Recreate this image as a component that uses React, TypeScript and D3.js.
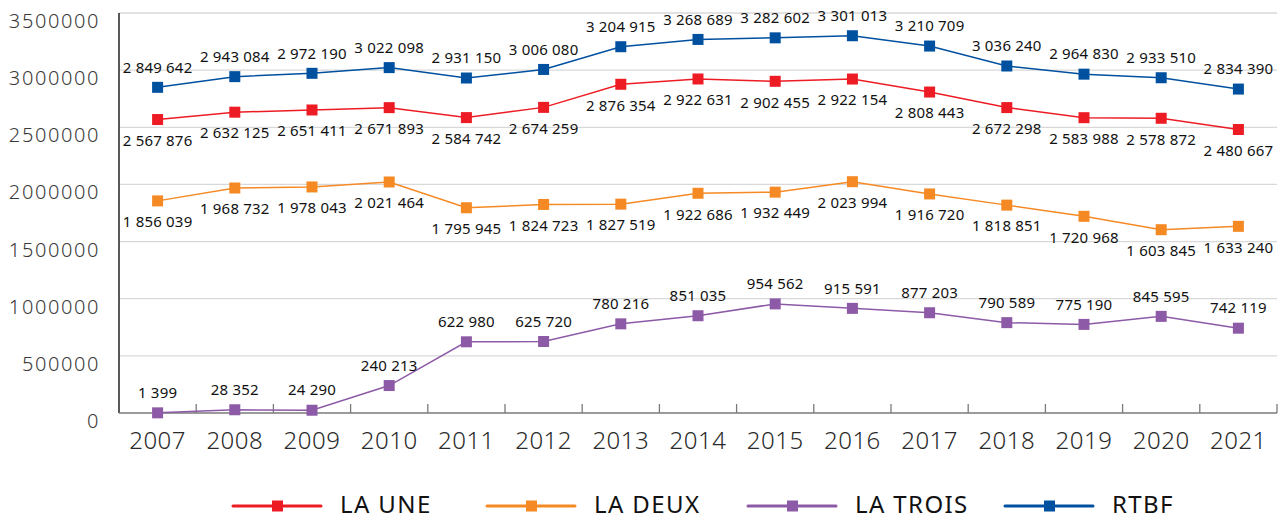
import { useEffect } from 'react'
import * as d3 from 'd3'

const WIDTH = 1285
const HEIGHT = 520
const MARGIN = { top: 13, right: 8, bottom: 107, left: 119 }

const YEARS = ['2007', '2008', '2009', '2010', '2011', '2012', '2013', '2014', '2015', '2016', '2017', '2018', '2019', '2020', '2021']
const Y_TICKS = [0, 500000, 1000000, 1500000, 2000000, 2500000, 3000000, 3500000]

const LA_UNE = [2567876, 2632125, 2651411, 2671893, 2584742, 2674259, 2876354, 2922631, 2902455, 2922154, 2808443, 2672298, 2583988, 2578872, 2480667]
const LA_DEUX = [1856039, 1968732, 1978043, 2021464, 1795945, 1824723, 1827519, 1922686, 1932449, 2023994, 1916720, 1818851, 1720968, 1603845, 1633240]
const LA_TROIS = [1399, 28352, 24290, 240213, 622980, 625720, 780216, 851035, 954562, 915591, 877203, 790589, 775190, 845595, 742119]
const RTBF = [2849642, 2943084, 2972190, 3022098, 2931150, 3006080, 3204915, 3268689, 3282602, 3301013, 3210709, 3036240, 2964830, 2933510, 2834390]

const SERIES = [
  { name: 'LA UNE', values: LA_UNE, color: '#ed1c24', labelPos: 'below' },
  { name: 'LA DEUX', values: LA_DEUX, color: '#f58a24', labelPos: 'below' },
  { name: 'LA TROIS', values: LA_TROIS, color: '#8c5aa6', labelPos: 'above' },
  { name: 'RTBF', values: RTBF, color: '#0050a0', labelPos: 'above' },
]

const LEGEND_X = [233, 487, 748, 1005]
const FONT = '"Noto Sans", "DejaVu Sans", sans-serif'

// "2849642" -> "2 849 642"
const fmt = (v: number) => String(v).replace(/\B(?=(\d{3})+(?!\d))/g, ' ')

export default function App() {
  useEffect(() => {
    document.body.style.margin = '0'
  }, [])

  const iw = WIDTH - MARGIN.left - MARGIN.right
  const ih = HEIGHT - MARGIN.top - MARGIN.bottom

  const x = d3.scaleBand().domain(YEARS).range([0, iw])
  const y = d3.scaleLinear().domain([0, 3500000]).range([ih, 0])
  const cx = (i: number) => (x(YEARS[i]) as number) + x.bandwidth() / 2

  const line = d3.line<number>().x((_, i) => cx(i)).y(d => y(d))

  return (
    <svg width={WIDTH} height={HEIGHT} style={{ display: 'block', fontFamily: FONT }}>
      <g transform={`translate(${MARGIN.left},${MARGIN.top})`}>
        {/* gridlines */}
        {Y_TICKS.filter(t => t > 0).map(t => (
          <line key={t} x1={0} x2={iw} y1={y(t)} y2={y(t)} stroke="#d9d9d9" strokeWidth={1.3} />
        ))}
        {/* y labels -- sit a bit below their gridline */}
        {Y_TICKS.map(t => (
          <text key={t} x={-19} y={y(t) + 8} dy="0.35em" textAnchor="end" fontSize={20}
            letterSpacing={1.6} fill="#3a3a3a" fontWeight={300}>
            {t}
          </text>
        ))}
        {/* axes */}
        <line x1={0} x2={0} y1={0} y2={ih} stroke="#222" strokeWidth={1.5} />
        <line x1={0} x2={iw} y1={ih} y2={ih} stroke="#7a7a7a" strokeWidth={1.5} />
        {YEARS.map(yr => (
          <line key={yr} x1={(x(yr) as number) + x.bandwidth()} x2={(x(yr) as number) + x.bandwidth()}
            y1={ih} y2={ih - 9} stroke="#7a7a7a" strokeWidth={1.3} />
        ))}
        {YEARS.map((yr, i) => (
          <text key={yr} x={cx(i)} y={ih + 28} dy="0.35em" textAnchor="middle" fontSize={24}
            letterSpacing={0.5} fill="#2a2a2a" fontWeight={300}>
            {yr}
          </text>
        ))}

        {/* series */}
        {SERIES.map(s => (
          <g key={s.name}>
            <path d={line(s.values) as string} fill="none" stroke={s.color} strokeWidth={1.5} />
            {s.values.map((v, i) => (
              <rect key={i} x={cx(i) - 5.5} y={y(v) - 5.5} width={11} height={11} fill={s.color} />
            ))}
            {s.values.map((v, i) => (
              <text key={'l' + i} x={cx(i)} y={y(v) + (s.labelPos === 'above' ? -20 : 21)} dy="0.35em"
                textAnchor="middle" fontSize={15} letterSpacing={0.2} fill="#111">
                {fmt(v)}
              </text>
            ))}
          </g>
        ))}
      </g>

      {/* legend */}
      {SERIES.map((s, i) => (
        <g key={s.name} transform={`translate(${LEGEND_X[i]},506)`}>
          <line x1={0} x2={88} y1={0} y2={0} stroke={s.color} strokeWidth={3} strokeLinecap="round" />
          <rect x={39} y={-5.5} width={11} height={11} fill={s.color} />
          <text x={107} y={-1} dy="0.35em" fontSize={24} letterSpacing={1.4} fill="#111">{s.name}</text>
        </g>
      ))}
    </svg>
  )
}
